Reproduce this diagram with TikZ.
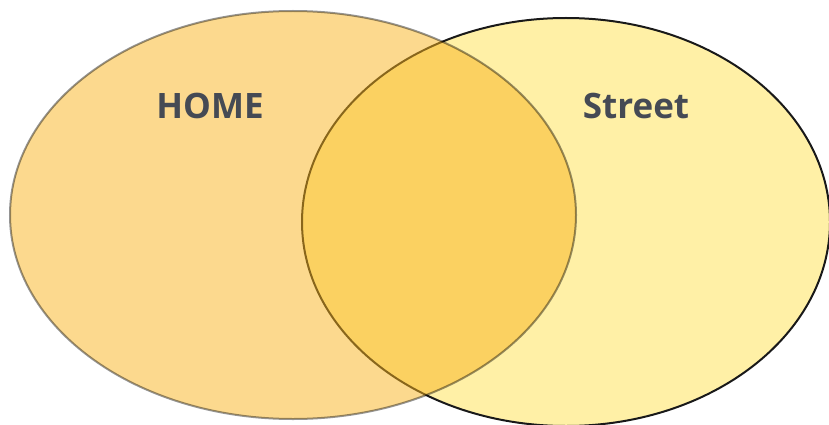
\documentclass[tikz,border=0pt]{standalone}
\usepackage{fontspec}
\setmainfont{Open Sans}
\definecolor{streetfill}{HTML}{FFF0A6}
\definecolor{homefill}{HTML}{F9B41E}
\definecolor{labelgray}{HTML}{454A54}
\begin{document}
\begin{tikzpicture}[x=1pt,y=-1pt,
  setlabel/.style={font=\bfseries\fontsize{35}{40}\selectfont, text=labelgray, inner sep=0pt}]
  \useasboundingbox (0,0) rectangle (829,425);
  \clip (0,0) rectangle (829,425);
  % right set, opaque
  \draw[fill=streetfill, draw=black!90, line width=2pt]
    (566,222) ellipse [x radius=264, y radius=204];
  % left set, translucent over the right one
  \draw[fill=homefill, fill opacity=0.5, draw=black, draw opacity=0.42, line width=2pt]
    (293,215) ellipse [x radius=283, y radius=204];
  \node[setlabel] (home) at (210,106) {HOME};
  \node[setlabel] (street) at (636,106) {Street};
\end{tikzpicture}
\end{document}
